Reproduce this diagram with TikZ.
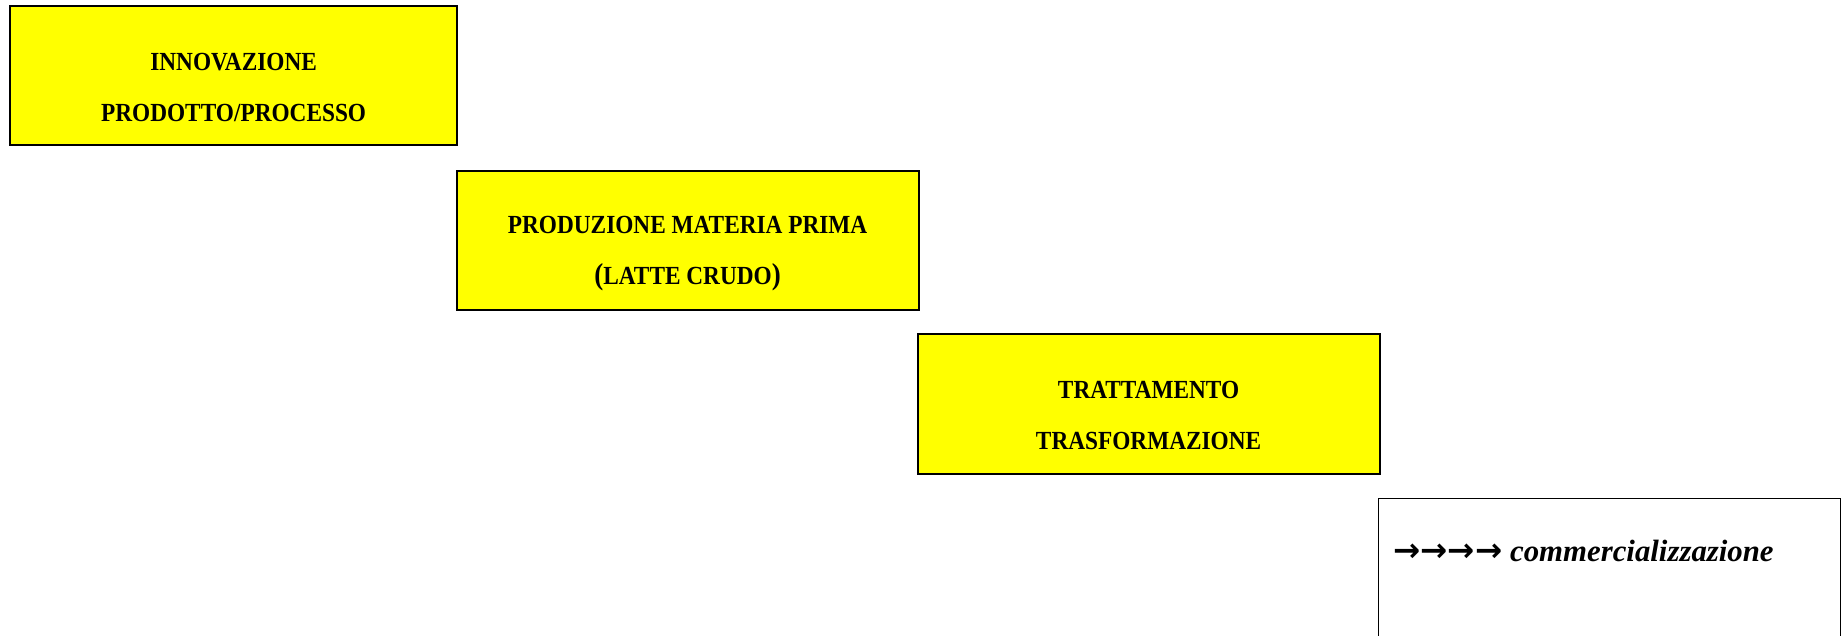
\documentclass[tikz,border=0pt]{standalone}
\usepackage{fontspec}
\usepackage{graphicx}
\setmainfont{Liberation Serif}
\newfontfamily\arrowfont{DejaVu Sans}
\definecolor{boxyellow}{RGB}{255,255,0}
\newcommand\talltxt[1]{\scalebox{1}[1.12]{#1}}
\begin{document}
\begin{tikzpicture}[x=1pt,y=-1pt,
  ybox/.style={draw=black, line width=2pt, fill=boxyellow, inner sep=0pt, outer sep=0pt, anchor=north west},
  wbox/.style={draw=black, line width=1.3pt, fill=white, inner sep=0pt, outer sep=0pt, anchor=north west},
  lbl/.style={anchor=base, inner sep=0pt, font=\fontsize{23.3}{28}\selectfont\bfseries}]
\useasboundingbox (0,0) rectangle (1847,636);
\node[ybox, minimum width=446.7pt, minimum height=138.8pt] (b1) at (10.3,6.5) {};
\node[ybox, minimum width=461.8pt, minimum height=138.9pt] (b2) at (456.7,170.8) {};
\node[ybox, minimum width=461.7pt, minimum height=139.9pt] (b3) at (917.8,333.8) {};
\node[wbox, minimum width=461.5pt, minimum height=160pt] (b4) at (1378.8,498.7) {};
\node[lbl] (t1a) at (233.6,70.5) {\talltxt{INNOVAZIONE}};
\node[lbl] (t1b) at (233.6,121.7) {\talltxt{PRODOTTO/PROCESSO}};
\node[lbl] (t2a) at (687.6,234) {\talltxt{PRODUZIONE MATERIA PRIMA}};
\node[lbl] (t2b) at (687.6,285) {\talltxt{{\fontsize{27}{30}\selectfont(}LATTE CRUDO{\fontsize{27}{30}\selectfont)}}};
\node[lbl] (t3a) at (1148.6,398.3) {\talltxt{TRATTAMENTO}};
\node[lbl] (t3b) at (1148.6,449.3) {\talltxt{TRASFORMAZIONE}};
\node[anchor=base west, inner sep=0pt] (t4) at (1393.3,561.7)
  {{\arrowfont\bfseries\fontsize{32.5}{36}\selectfont →→→→}{\fontsize{30.8}{34}\selectfont\bfseries\itshape\ commercializzazione}};
\end{tikzpicture}
\end{document}
